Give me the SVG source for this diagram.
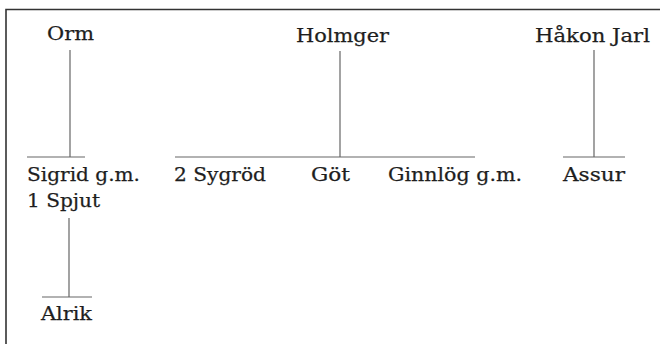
<svg xmlns="http://www.w3.org/2000/svg" width="660" height="344" viewBox="0 0 660 344">
<style>
.t{font-family:"DejaVu Serif","Liberation Serif",serif;font-size:19px;fill:#1e1e1e;stroke:#1e1e1e;stroke-width:0.25}
.c{stroke:#666;stroke-width:1.2;fill:none}
.b{stroke:#333;stroke-width:1.6;fill:none}
</style>
<rect width="660" height="344" fill="#fff"/>
<path class="b" d="M6,344 V9.5 H660"/>
<g id="connectors">
<path class="c" d="M70,50 V157 M27,157 H85"/>
<path class="c" d="M69,218 V297 M42,297 H92"/>
<path class="c" d="M340,51 V157 M175,157 H475"/>
<path class="c" d="M594,50 V157 M563,157 H625"/>
</g>
<g id="orm"><text class="t" x="47" y="40" textLength="47" lengthAdjust="spacingAndGlyphs">Orm</text></g>
<g id="holmger"><text class="t" x="296" y="42" textLength="93" lengthAdjust="spacingAndGlyphs">Holmger</text></g>
<g id="hakon"><text class="t" x="535" y="42" textLength="115" lengthAdjust="spacingAndGlyphs">Håkon Jarl</text></g>
<g id="sigrid"><text class="t" x="27" y="181" textLength="113" lengthAdjust="spacingAndGlyphs">Sigrid g.m.</text><text class="t" x="27" y="207" textLength="73" lengthAdjust="spacingAndGlyphs">1 Spjut</text></g>
<g id="sygrod"><text class="t" x="174" y="181" textLength="92" lengthAdjust="spacingAndGlyphs">2 Sygröd</text></g>
<g id="got"><text class="t" x="311" y="181" textLength="39" lengthAdjust="spacingAndGlyphs">Göt</text></g>
<g id="ginnlog"><text class="t" x="388" y="181" textLength="134" lengthAdjust="spacingAndGlyphs">Ginnlög g.m.</text></g>
<g id="assur"><text class="t" x="563" y="181" textLength="62" lengthAdjust="spacingAndGlyphs">Assur</text></g>
<g id="alrik"><text class="t" x="41" y="320" textLength="51" lengthAdjust="spacingAndGlyphs">Alrik</text></g>
</svg>
